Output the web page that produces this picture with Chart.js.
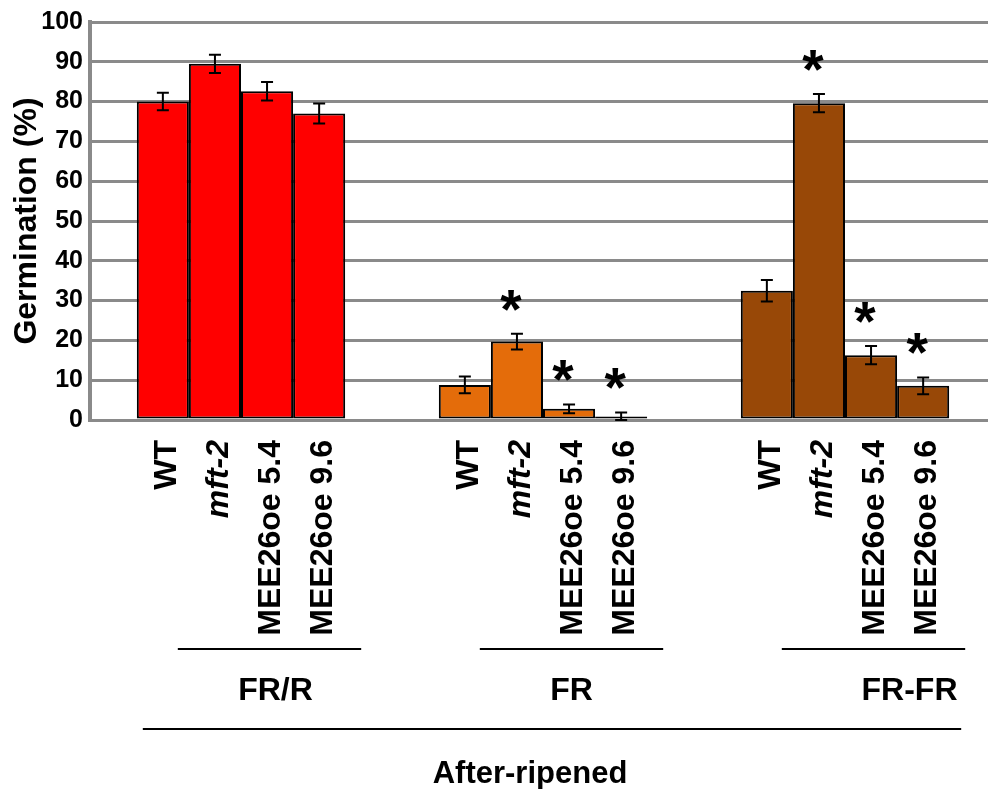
<!DOCTYPE html>
<html>
<head>
<meta charset="utf-8">
<script src="https://cdn.jsdelivr.net/npm/chart.js@4.4.1/dist/chart.umd.min.js"></script>
<style>
  html, body { margin: 0; padding: 0; background: #ffffff; overflow: hidden; }
  #wrap { width: 988px; height: 789px; overflow: hidden; }
</style>
</head>
<body>
<div id="wrap"><canvas id="c" width="996" height="789"></canvas></div>
<script>
// ---- data ----
const groups = ['FR/R', 'FR', 'FR-FR'];
const genotypes = ['WT', 'mft-2', 'MEE26oe 5.4', 'MEE26oe 9.6'];
const groupTitle = 'After-ripened';
const yTitle = 'Germination (%)';

const wtValues    = [80.0, 8.8, 32.5];
const mft2Values  = [89.5, 19.7, 79.6];
const mee54Values = [82.6, 2.8, 16.3];
const mee96Values = [77.0, 0.9, 8.6];

const wtErr    = [2.2, 2.1, 2.7];
const mft2Err  = [2.3, 2.0, 2.3];
const mee54Err = [2.3, 1.1, 2.3];
const mee96Err = [2.5, 1.0, 2.1];

const wtSig    = [false, false, false];
const mft2Sig  = [false, true, true];
const mee54Sig = [false, true, true];
const mee96Sig = [false, true, true];

const yTicks = [0, 10, 20, 30, 40, 50, 60, 70, 80, 90, 100];

// ---- styles ----
const groupColors = ['#FF0000', '#E46C0A', '#984807'];
const FONT = '"Liberation Sans", Arial, Helvetica, sans-serif';

const seriesValues = [wtValues, mft2Values, mee54Values, mee96Values];
const seriesErr = [wtErr, mft2Err, mee54Err, mee96Err];
const seriesSig = [wtSig, mft2Sig, mee54Sig, mee96Sig];

const datasets = genotypes.map((g, i) => ({
  label: g,
  data: seriesValues[i],
  err: seriesErr[i],
  sig: seriesSig[i],
  backgroundColor: groupColors,
  borderColor: '#000000',
  borderWidth: 2,
  borderSkipped: false,
  categoryPercentage: 0.69,
  barPercentage: 1.0
}));

const annotate = {
  id: 'annotate',
  afterDatasetsDraw(chart) {
    const ctx = chart.ctx;
    const y = chart.scales.y;
    ctx.save();
    // error bars and asterisks
    chart.data.datasets.forEach((ds, di) => {
      const meta = chart.getDatasetMeta(di);
      meta.data.forEach((el, j) => {
        const v = ds.data[j], e = ds.err[j];
        const yt = y.getPixelForValue(v + e);
        const yb = y.getPixelForValue(Math.max(0, v - e));
        ctx.strokeStyle = '#000';
        ctx.lineWidth = 2;
        ctx.beginPath();
        ctx.moveTo(el.x, yt); ctx.lineTo(el.x, yb);
        ctx.moveTo(el.x - 6, yt); ctx.lineTo(el.x + 6, yt);
        ctx.moveTo(el.x - 6, yb); ctx.lineTo(el.x + 6, yb);
        ctx.stroke();
        if (ds.sig[j]) {
          ctx.fillStyle = '#000';
          ctx.font = 'bold 55px ' + FONT;
          ctx.textAlign = 'center';
          ctx.textBaseline = 'alphabetic';
          ctx.fillText('*', el.x - 6, yt - 35 + 29);
        }
      });
    });
    // rotated genotype labels
    chart.data.datasets.forEach((ds, di) => {
      const meta = chart.getDatasetMeta(di);
      meta.data.forEach((el) => {
        ctx.save();
        ctx.translate(el.x + 4, 440);
        ctx.rotate(-Math.PI / 2);
        ctx.fillStyle = '#000';
        ctx.font = (ds.label === 'mft-2' ? 'italic bold ' : 'bold ') + '32px ' + FONT;
        ctx.textAlign = 'right';
        ctx.textBaseline = 'middle';
        ctx.fillText(ds.label, 0, 0);
        ctx.restore();
      });
    });
    // group lines and labels
    const first = chart.getDatasetMeta(0).data;
    const last = chart.getDatasetMeta(chart.data.datasets.length - 1).data;
    const labelShift = [6, 0, 36];
    ctx.strokeStyle = '#000';
    ctx.lineWidth = 2;
    ctx.fillStyle = '#000';
    groups.forEach((g, j) => {
      const x0 = first[j].x - first[j].width / 2 + 41;
      const x1 = last[j].x + last[j].width / 2 + 16;
      ctx.beginPath();
      ctx.moveTo(x0, 649); ctx.lineTo(x1, 649);
      ctx.stroke();
      ctx.font = 'bold 32px ' + FONT;
      ctx.textAlign = 'center';
      ctx.textBaseline = 'alphabetic';
      ctx.fillText(g, (x0 + x1) / 2 + labelShift[j], 700);
    });
    const gx0 = first[0].x - first[0].width / 2 + 6;
    const gx1 = last[2].x + last[2].width / 2 + 12;
    ctx.beginPath();
    ctx.moveTo(gx0, 729); ctx.lineTo(gx1, 729);
    ctx.stroke();
    ctx.font = 'bold 31px ' + FONT;
    ctx.textAlign = 'center';
    ctx.fillText(groupTitle, 530, 783);
    ctx.restore();
  }
};

new Chart(document.getElementById('c'), {
  type: 'bar',
  data: { labels: groups, datasets },
  options: {
    responsive: false,
    animation: false,
    devicePixelRatio: 1,
    layout: { padding: { top: 4, right: 0, bottom: 0, left: 0 } },
    plugins: { legend: { display: false }, tooltip: { enabled: false } },
    scales: {
      x: {
        type: 'category',
        offset: true,
        grid: { display: false },
        border: { display: false },
        ticks: { display: false },
        afterFit(scale) { scale.height = 369; }
      },
      y: {
        min: 0,
        max: 100,
        afterBuildTicks(scale) { scale.ticks = yTicks.map(v => ({ value: v })); },
        ticks: {
          color: '#000',
          font: { family: FONT, size: 25, weight: 'bold' },
          padding: 7
        },
        grid: { color: '#8a8a8a', lineWidth: 3, drawTicks: false },
        border: { display: true, color: '#8a8a8a', width: 4 },
        title: {
          display: true,
          text: yTitle,
          color: '#000',
          font: { family: FONT, size: 32, weight: 'bold' },
          padding: { top: 8, bottom: 0 }
        },
        afterFit(scale) { scale.width = 90; }
      }
    }
  },
  plugins: [annotate]
});
</script>
</body>
</html>
